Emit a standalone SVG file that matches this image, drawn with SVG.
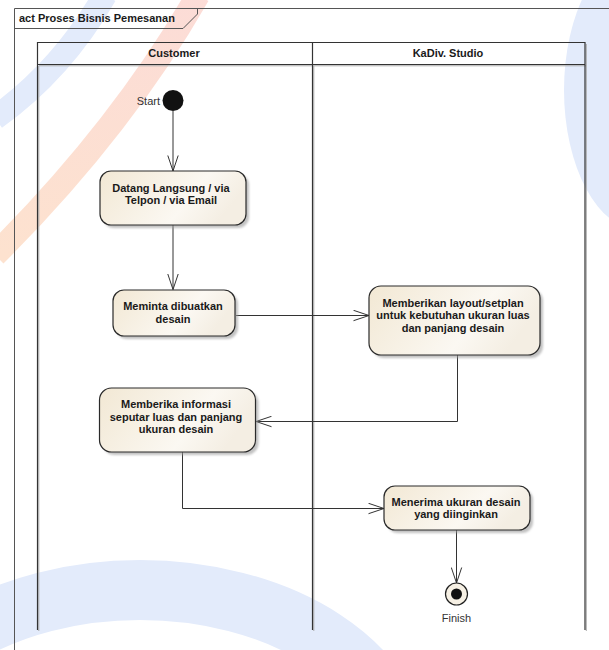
<svg xmlns="http://www.w3.org/2000/svg" width="609" height="650" viewBox="0 0 609 650">
  <defs>
    <linearGradient id="nodeFill" x1="0" y1="0" x2="1" y2="0.3">
      <stop offset="0" stop-color="#f2e8d4"/>
      <stop offset="0.7" stop-color="#fbf8f2"/>
      <stop offset="1" stop-color="#f4eee3"/>
    </linearGradient>
    <linearGradient id="redArc" x1="0" y1="0" x2="0" y2="1">
      <stop offset="0" stop-color="#fcdcd7"/>
      <stop offset="1" stop-color="#fde2cf"/>
    </linearGradient>
    <filter id="shadow" x="-10%" y="-10%" width="130%" height="140%">
      <feGaussianBlur stdDeviation="1.2"/>
    </filter>
    <marker id="arrow" markerUnits="userSpaceOnUse" viewBox="0 0 17 12" refX="16" refY="6" markerWidth="17" markerHeight="12" orient="auto">
      <path d="M0.5,0.8 L16,6 L0.5,11.2" fill="none" stroke="#333" stroke-width="1"/>
    </marker>
  </defs>
  <style>
    .wm { fill: #e3ebfb; }
    .frame { fill: none; stroke: #555; stroke-width: 1; }
    .lane { fill: none; stroke: #333; stroke-width: 1.2; }
    .laneShadow { fill: none; stroke: #aaa; stroke-width: 1; }
    .title { font-family: "Liberation Sans", Arial, sans-serif; font-size: 11px; font-weight: bold; fill: #1a1a1a; }
    .hdr { font-family: "Liberation Sans", Arial, sans-serif; font-size: 11px; font-weight: bold; fill: #1a1a1a; text-anchor: middle; }
    .label { font-family: "Liberation Sans", Arial, sans-serif; font-size: 11px; font-weight: bold; fill: #1a1a1a; text-anchor: middle; }
    .plain { font-family: "Liberation Sans", Arial, sans-serif; font-size: 11px; fill: #333333; }
    .box { fill: url(#nodeFill); stroke: #2a2a2a; stroke-width: 1.2; }
    .shd { fill: #9a9a9a; opacity: 0.6; filter: url(#shadow); }
    .conn { fill: none; stroke: #333; stroke-width: 1; }
  </style>

  <rect x="0" y="0" width="609" height="650" fill="#ffffff"/>

  <!-- watermark background -->
  <g id="watermark">
    <path d="M105,-5 Q62,70 -5,118" fill="none" stroke="#e3ebfb" stroke-width="24"/>
    <path d="M198,-5 Q122,128 -5,255" fill="none" stroke="url(#redArc)" stroke-width="24"/>
    <ellipse cx="640" cy="90" rx="76" ry="140" class="wm"/>
    <ellipse cx="140" cy="760" rx="260" ry="170" fill="none" stroke="#e3ebfb" stroke-width="60"/>
  </g>

  <!-- frame -->
  <g id="frame">
    <path class="frame" d="M14.5,650 V8.5 H609"/>
    <path class="frame" d="M14.5,28.5 H183 L197.5,14 V8.5"/>
    <text class="title" x="19" y="22">act Proses Bisnis Pemesanan</text>
  </g>

  <!-- swimlanes -->
  <g id="lanes">
    <path class="laneShadow" d="M38.8,66 V631 M313.8,66 V631 M586.3,44 V631 M39,65.8 H586"/>
    <path class="lane" d="M37.5,630 V42.5 H585 V630 M312.5,42.5 V630 M37.5,64.5 H585"/>
    <text class="hdr" x="174" y="57">Customer</text>
    <text class="hdr" x="448" y="57">KaDiv. Studio</text>
  </g>

  <!-- connectors -->
  <g id="connectors">
    <path class="conn" d="M173,111 V171" marker-end="url(#arrow)"/>
    <path class="conn" d="M173,225 V289.5" marker-end="url(#arrow)"/>
    <path class="conn" d="M236,315.5 H369" marker-end="url(#arrow)"/>
    <path class="conn" d="M457.5,355 V421.5 H256" marker-end="url(#arrow)"/>
    <path class="conn" d="M182.5,452 V508.5 H384" marker-end="url(#arrow)"/>
    <path class="conn" d="M456.5,530 V583" marker-end="url(#arrow)"/>
  </g>

  <!-- nodes -->
  <g id="start">
    <circle cx="173" cy="100.5" r="10.5" fill="#111"/>
    <text class="plain" x="160" y="104.5" text-anchor="end">Start</text>
  </g>

  <g id="n1">
    <rect class="shd" x="103" y="174" width="146" height="54" rx="11"/>
    <rect class="box" x="100" y="171" width="146" height="54" rx="11"/>
    <text class="label" x="171" y="191.5">Datang Langsung / via</text>
    <text class="label" x="171" y="204">Telpon / via Email</text>
  </g>

  <g id="n2">
    <rect class="shd" x="116" y="293" width="122" height="46" rx="11"/>
    <rect class="box" x="113" y="290" width="122" height="46" rx="11"/>
    <text class="label" x="173" y="310">Meminta dibuatkan</text>
    <text class="label" x="173" y="323">desain</text>
  </g>

  <g id="n3">
    <rect class="shd" x="372" y="289" width="171" height="69" rx="12"/>
    <rect class="box" x="369" y="286" width="171" height="69" rx="12"/>
    <text class="label" x="453" y="306.5">Memberikan layout/setplan</text>
    <text class="label" x="453" y="319">untuk kebutuhan ukuran luas</text>
    <text class="label" x="453" y="331.5">dan panjang desain</text>
  </g>

  <g id="n4">
    <rect class="shd" x="102.5" y="391" width="156" height="64" rx="12"/>
    <rect class="box" x="99.5" y="388" width="156" height="64" rx="12"/>
    <text class="label" x="176" y="408.3">Memberika informasi</text>
    <text class="label" x="176" y="420.8">seputar luas dan panjang</text>
    <text class="label" x="176" y="433.3">ukuran desain</text>
  </g>

  <g id="n5">
    <rect class="shd" x="387" y="489" width="146" height="44" rx="11"/>
    <rect class="box" x="384" y="486" width="146" height="44" rx="11"/>
    <text class="label" x="456" y="505.7">Menerima ukuran desain</text>
    <text class="label" x="456" y="518.3">yang diinginkan</text>
  </g>

  <g id="finish">
    <circle cx="456.5" cy="594" r="11" fill="#f6f0e4" stroke="#222" stroke-width="1.2"/>
    <circle cx="456.5" cy="594" r="5.5" fill="#111"/>
    <text class="plain" x="456.5" y="621.5" text-anchor="middle">Finish</text>
  </g>
</svg>
